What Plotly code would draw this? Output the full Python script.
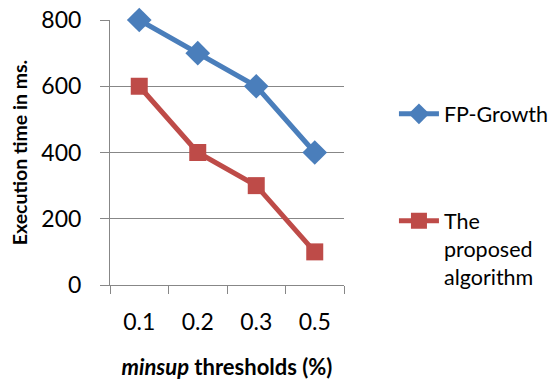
import plotly.graph_objects as go

categories = ["0.1", "0.2", "0.3", "0.5"]
fp_growth = [800, 700, 600, 400]
proposed = [600, 400, 300, 100]
y_ticks = [0, 200, 400, 600, 800]

FONT = "Lato, 'Open Sans', sans-serif"
BLUE = "#4A7EBB"
RED = "#BE4B48"
GRID = "#878787"

fig = go.Figure()
fig.add_trace(go.Scatter(
    x=categories, y=fp_growth, name="FP-Growth", mode="lines+markers",
    line=dict(color=BLUE, width=5),
    marker=dict(symbol="diamond", size=19, color=BLUE),
    legendgroup="a", cliponaxis=False,
))
fig.add_trace(go.Scatter(
    x=categories, y=proposed, name="The<br>proposed<br>algorithm", mode="lines+markers",
    line=dict(color=RED, width=5),
    marker=dict(symbol="square", size=17, color=RED),
    legendgroup="b", cliponaxis=False,
))

fig.update_layout(
    width=558, height=381,
    margin=dict(l=110, r=214, t=20, b=96),
    paper_bgcolor="white", plot_bgcolor="white",
    font=dict(family=FONT, color="black", size=23),
    legend=dict(
        xref="container", yref="container",
        x=0.706, y=0.755, xanchor="left", yanchor="top",
        font=dict(size=21.5, family=FONT),
        tracegroupgap=76, valign="top",
        itemwidth=40, maxheight=320,
    ),
    xaxis=dict(
        type="category", range=[-0.5, 3.5], automargin=False,
        showline=True, linecolor=GRID, linewidth=1,
        ticks="outside", tickson="boundaries", ticklen=8, tickcolor=GRID,
        showgrid=False, tickfont=dict(size=23),
        ticklabelstandoff=16,
        title=dict(text="<b><i>minsup</i> thresholds (%)</b>", font=dict(size=22), standoff=26),
    ),
    yaxis=dict(
        range=[0, 800], tickvals=y_ticks, automargin=False,
        showline=True, linecolor=GRID, linewidth=1,
        showgrid=True, gridcolor=GRID, gridwidth=1,
        ticks="outside", ticklen=9, tickcolor=GRID,
        tickfont=dict(size=23), ticklabelstandoff=14,
        zeroline=False,
        title=dict(text="<b>Execution time in ms.</b>", font=dict(size=19.5), standoff=8),
    ),
)

fig.write_html("out.html")
